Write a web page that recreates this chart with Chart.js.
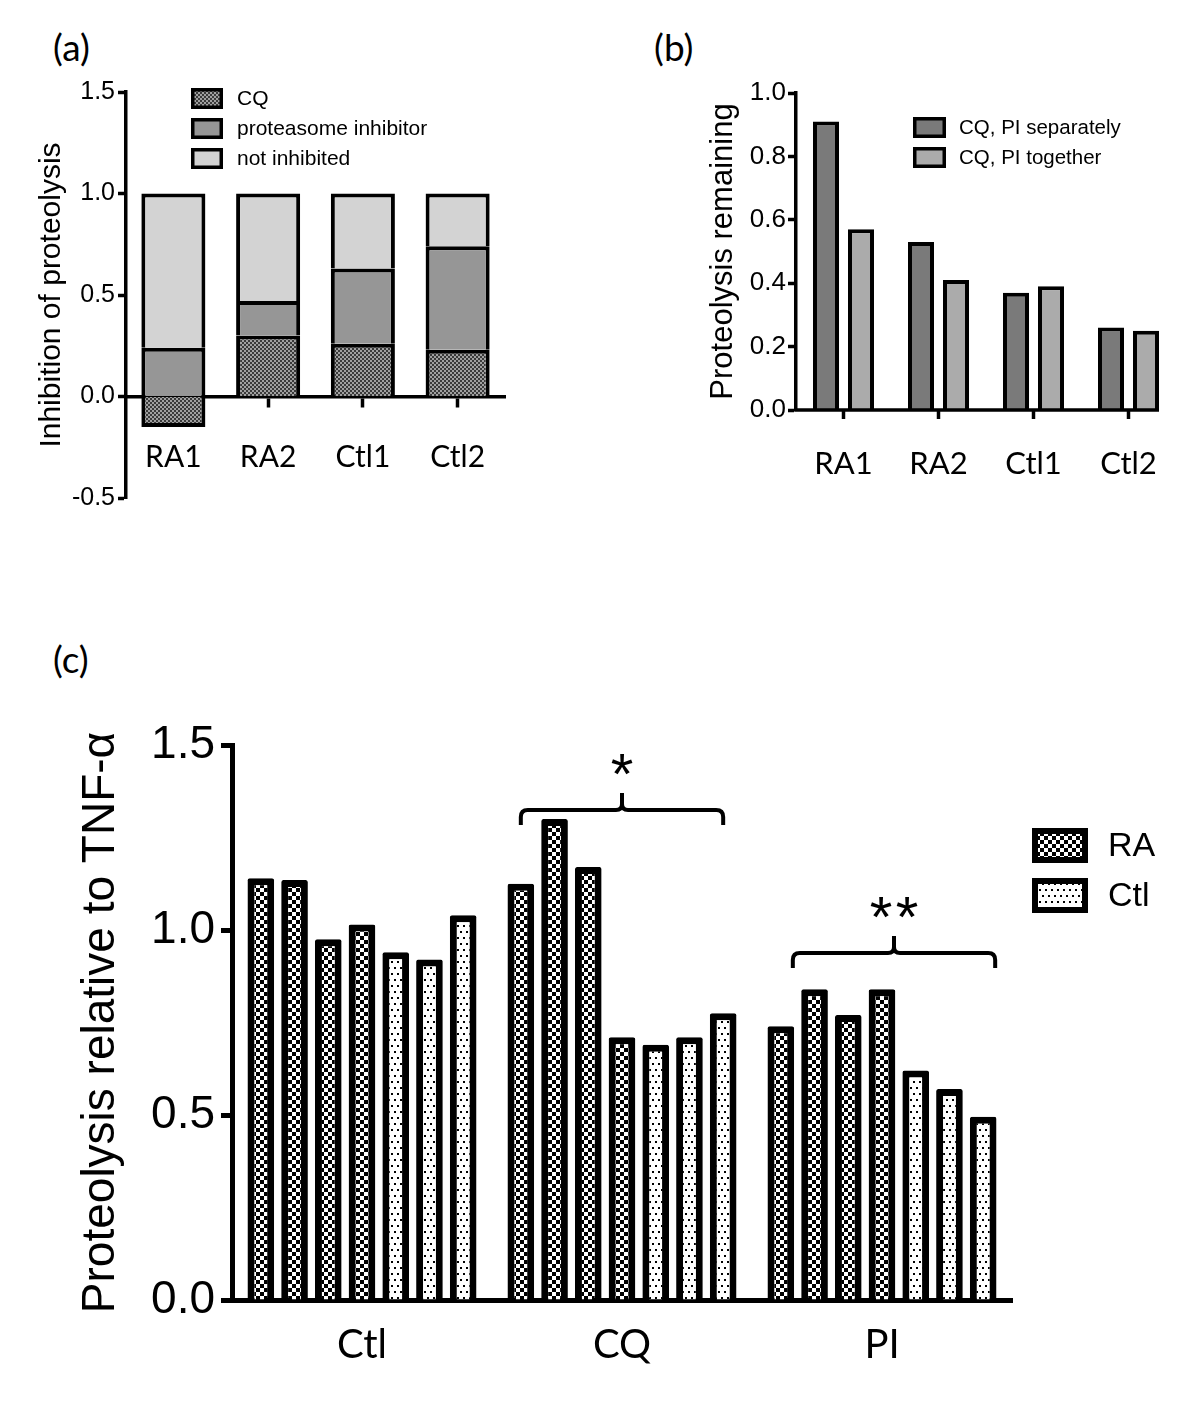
<!DOCTYPE html>
<html>
<head>
<meta charset="utf-8">
<script src="https://cdn.jsdelivr.net/npm/chart.js@4.4.1/dist/chart.umd.min.js"></script>
<style>
  html, body { margin: 0; padding: 0; background: #fff; }
  body { width: 1200px; height: 1406px; position: relative; overflow: hidden; font-family: 'Liberation Sans', Arial, sans-serif; }
  .wrap { position: absolute; }
  .plabel { position: absolute; font-family: Lato, 'Open Sans', sans-serif; font-size: 37px; line-height: 37px; color: #000; }
</style>
</head>
<body>
<div class="plabel" style="left:53px;top:28px">(a)</div>
<div class="plabel" style="left:654px;top:28px">(b)</div>
<div class="plabel" style="left:53px;top:640px">(c)</div>
<div class="wrap" style="left:0;top:0;"><canvas id="ca" width="560" height="540"></canvas></div>
<div class="wrap" style="left:600px;top:0;"><canvas id="cb" width="600" height="540"></canvas></div>
<div class="wrap" style="left:0;top:600px;"><canvas id="cc" width="1200" height="806"></canvas></div>
<script>
// ---------- DATA ----------
// Panel (a): inhibition of proteolysis (stacked)
const subjects = ['RA1', 'RA2', 'Ctl1', 'Ctl2'];
const cqInhibition = [-0.15, 0.30, 0.26, 0.23];
const piInhibition = [0.24, 0.17, 0.37, 0.51];
const notInhibited = [0.76, 0.53, 0.37, 0.26];

// Panel (b): proteolysis remaining
const remainingSeparately = [0.91, 0.53, 0.37, 0.26];
const remainingTogether = [0.57, 0.41, 0.39, 0.25];

// Panel (c): proteolysis relative to TNF-alpha
const treatments = ['Ctl', 'CQ', 'PI'];
const raCtl = [1.14, 1.135, 0.975, 1.015];
const ctlCtl = [0.94, 0.92, 1.04];
const raCQ = [1.125, 1.30, 1.17, 0.71];
const ctlCQ = [0.69, 0.71, 0.775];
const raPI = [0.74, 0.84, 0.77, 0.84];
const ctlPI = [0.62, 0.57, 0.495];
const significance = [
  { group: 1, label: '*', level: 1.324, dx: 0 },
  { group: 2, label: '**', level: 0.938, dx: 12 }
];

// ---------- HELPERS ----------
Chart.defaults.font.family = "'Liberation Sans', Arial, sans-serif";
Chart.defaults.color = '#000';

function makePattern(size, draw) {
  const c = document.createElement('canvas');
  c.width = size; c.height = size;
  const x = c.getContext('2d');
  draw(x);
  return x.createPattern(c, 'repeat');
}
const patCQa = makePattern(4, x => {
  x.fillStyle = '#a0a0a0'; x.fillRect(0, 0, 4, 4);
  x.fillStyle = '#3a3a3a'; x.fillRect(0, 0, 2, 2); x.fillRect(2, 2, 2, 2);
});
const patRA = makePattern(8, x => {
  x.fillStyle = '#fff'; x.fillRect(0, 0, 8, 8);
  x.fillStyle = '#000'; x.fillRect(0, 0, 4, 4); x.fillRect(4, 4, 4, 4);
});
const patCtl = makePattern(12, x => {
  x.fillStyle = '#fff'; x.fillRect(0, 0, 12, 12);
  x.fillStyle = '#000';
  x.fillRect(1, 1, 2, 2); x.fillRect(7, 1, 2, 2); x.fillRect(4, 7, 2, 2); x.fillRect(10, 7, 2, 2);
});

const boxLegend = {
  id: 'boxLegend',
  afterDraw(chart, args, o) {
    const ctx = chart.ctx;
    const seen = new Set();
    const items = [];
    chart.data.datasets.forEach(d => { if (!seen.has(d.label)) { seen.add(d.label); items.push(d); } });
    ctx.save();
    items.forEach((d, i) => {
      const x = o.x, y = o.y + i * o.gap;
      ctx.fillStyle = '#000';
      ctx.fillRect(x, y, o.w, o.h);
      ctx.fillStyle = d.backgroundColor;
      ctx.fillRect(x + o.bw, y + o.bw, o.w - 2 * o.bw, o.h - 2 * o.bw);
      ctx.fillStyle = '#000';
      ctx.font = o.font;
      ctx.textAlign = 'left';
      ctx.textBaseline = 'middle';
      ctx.fillText(d.label, o.tx, y + o.h / 2 + 1);
    });
    ctx.restore();
  }
};

function axisY(opts) {
  return {
    min: opts.min, max: opts.max,
    afterFit: s => { s.width = opts.width; },
    ticks: { stepSize: opts.step, color: '#000', font: { size: opts.tickSize }, padding: opts.pad, callback: v => Number(v).toFixed(1) },
    grid: { drawOnChartArea: false, drawTicks: true, tickLength: opts.tickLen, tickWidth: opts.lw, tickColor: '#000' },
    border: { display: true, color: '#000', width: opts.lw },
    title: { display: true, text: opts.title, color: '#000', font: { size: opts.titleSize }, padding: { top: opts.titlePad, bottom: 0 } }
  };
}

// ---------- PANEL (a) ----------
new Chart(document.getElementById('ca'), {
  type: 'bar',
  data: {
    labels: subjects,
    datasets: [
      { label: 'CQ', data: cqInhibition, backgroundColor: patCQa },
      { label: 'proteasome inhibitor', data: piInhibition, backgroundColor: '#969696' },
      { label: 'not inhibited', data: notInhibited, backgroundColor: '#d3d3d3' }
    ].map(d => Object.assign(d, { borderColor: '#000', borderWidth: 4, categoryPercentage: 0.8, barPercentage: 0.845 }))
  },
  options: {
    responsive: false, animation: false, events: [],
    layout: { padding: { top: 92, right: 55, bottom: 42, left: 0 } },
    plugins: {
      legend: { display: false }, tooltip: { enabled: false },
      boxLegend: { x: 191, y: 88, gap: 30, w: 32, h: 21, bw: 3.5, tx: 237, font: "21px 'Liberation Sans', Arial, sans-serif" }
    },
    scales: {
      x: {
        type: 'category', stacked: true, position: { y: 0 }, z: 1, offset: true,
        grid: { offset: false, drawOnChartArea: false, drawTicks: true, tickLength: 9, tickWidth: 3.5, tickColor: '#000' },
        border: { display: true, color: '#000', width: 3.5 },
        ticks: { color: '#000', font: { family: 'Lato', size: 30 }, padding: 34, maxRotation: 0, autoSkip: false }
      },
      y: Object.assign(axisY({ min: -0.5, max: 1.5, step: 0.5, width: 126, tickSize: 25, pad: 3, tickLen: 8, lw: 3.5, title: 'Inhibition of proteolysis', titleSize: 30, titlePad: 34 }), { stacked: true })
    }
  },
  plugins: [boxLegend]
});

// ---------- PANEL (b) ----------
const bAxisLine = {
  id: 'bAxisLine',
  afterDraw(chart) {
    const ctx = chart.ctx, a = chart.chartArea;
    const meta = chart.getDatasetMeta(chart.data.datasets.length - 1);
    const last = meta.data[meta.data.length - 1];
    ctx.save();
    ctx.strokeStyle = '#000'; ctx.lineWidth = 3.5;
    ctx.beginPath();
    ctx.moveTo(a.left - 1.75, a.bottom);
    ctx.lineTo(last.x + last.width / 2, a.bottom);
    ctx.stroke();
    ctx.restore();
  }
};
new Chart(document.getElementById('cb'), {
  type: 'bar',
  data: {
    labels: subjects,
    datasets: [
      { label: 'CQ, PI separately', data: remainingSeparately, backgroundColor: '#7a7a7a' },
      { label: 'CQ, PI together', data: remainingTogether, backgroundColor: '#ababab' }
    ].map(d => Object.assign(d, { borderColor: '#000', borderWidth: 4, categoryPercentage: 0.737, barPercentage: 0.743 }))
  },
  options: {
    responsive: false, animation: false, events: [],
    layout: { padding: { top: 93, right: 24, bottom: 0, left: 0 } },
    plugins: {
      legend: { display: false }, tooltip: { enabled: false },
      boxLegend: { x: 313, y: 117, gap: 30, w: 33, h: 21, bw: 3.5, tx: 359, font: "20.5px 'Liberation Sans', Arial, sans-serif" }
    },
    scales: {
      x: {
        type: 'category', position: 'bottom', offset: true,
        afterFit: s => { s.height = 130; },
        grid: { offset: false, drawOnChartArea: false, drawTicks: true, tickLength: 9, tickWidth: 3.5, tickColor: '#000' },
        border: { display: false },
        ticks: { color: '#000', font: { family: 'Lato', size: 31 }, padding: 26, maxRotation: 0, autoSkip: false }
      },
      y: axisY({ min: 0, max: 1.0, step: 0.2, width: 196, tickSize: 26, pad: 2, tickLen: 8, lw: 3.5, title: 'Proteolysis remaining', titleSize: 31, titlePad: 105 })
    }
  },
  plugins: [boxLegend, bAxisLine]
});

// ---------- PANEL (c) ----------
const groupsRA = [raCtl, raCQ, raPI];
const groupsCtl = [ctlCtl, ctlCQ, ctlPI];
const cDatasets = [];
for (let k = 0; k < raCtl.length; k++) {
  cDatasets.push({ label: 'RA', data: groupsRA.map(g => g[k]), backgroundColor: patRA });
}
for (let k = 0; k < ctlCtl.length; k++) {
  cDatasets.push({ label: 'Ctl', data: groupsCtl.map(g => g[k]), backgroundColor: patCtl });
}
cDatasets.forEach(d => Object.assign(d, { borderColor: '#000', borderWidth: 7, borderRadius: 2, categoryPercentage: 0.908, barPercentage: 0.79 }));

const brackets = {
  id: 'brackets',
  afterDatasetsDraw(chart, args, o) {
    const ctx = chart.ctx, ys = chart.scales.y;
    const n = chart.data.datasets.length;
    o.items.forEach(it => {
      const first = chart.getDatasetMeta(0).data[it.group];
      const last = chart.getDatasetMeta(n - 1).data[it.group];
      const L = first.x + it.dx, R = last.x + it.dx, C = (L + R) / 2;
      const y = ys.getPixelForValue(it.level);
      ctx.save();
      ctx.strokeStyle = '#000'; ctx.lineWidth = 4; ctx.lineJoin = 'round';
      ctx.beginPath();
      ctx.moveTo(L, y + 15); ctx.lineTo(L, y + 7);
      ctx.quadraticCurveTo(L, y, L + 7, y);
      ctx.lineTo(C - 6, y);
      ctx.quadraticCurveTo(C, y, C, y - 6);
      ctx.lineTo(C, y - 17);
      ctx.moveTo(C, y - 6);
      ctx.quadraticCurveTo(C, y, C + 6, y);
      ctx.lineTo(R - 7, y);
      ctx.quadraticCurveTo(R, y, R, y + 7);
      ctx.lineTo(R, y + 15);
      ctx.stroke();
      ctx.fillStyle = '#000';
      ctx.font = "58px 'Liberation Sans', Arial, sans-serif";
      ctx.textAlign = 'center'; ctx.textBaseline = 'alphabetic';
      const chars = it.label.split('');
      const cy = y - 49;
      chars.forEach((ch, i) => {
        const cx = C + (i - (chars.length - 1) / 2) * 26;
        ctx.fillText(ch, cx, cy + 33);
      });
      ctx.restore();
    });
  }
};

new Chart(document.getElementById('cc'), {
  type: 'bar',
  data: { labels: treatments, datasets: cDatasets },
  options: {
    responsive: false, animation: false, events: [],
    layout: { padding: { top: 145, right: 188, bottom: 0, left: 0 } },
    plugins: {
      legend: { display: false }, tooltip: { enabled: false },
      boxLegend: { x: 1032, y: 228, gap: 50, w: 56, h: 35, bw: 6, tx: 1108, font: "34px 'Liberation Sans', Arial, sans-serif" },
      brackets: { items: significance }
    },
    scales: {
      x: {
        type: 'category', position: 'bottom', offset: true, z: 1,
        afterFit: s => { s.height = 106; },
        grid: { offset: false, drawOnChartArea: false, drawTicks: false },
        border: { display: true, color: '#000', width: 5 },
        ticks: { color: '#000', font: { family: 'Lato', size: 40 }, padding: 21, maxRotation: 0, autoSkip: false }
      },
      y: axisY({ min: 0, max: 1.5, step: 0.5, width: 232, tickSize: 46, pad: 6, tickLen: 11, lw: 5, title: 'Proteolysis relative to TNF-α', titleSize: 46, titlePad: 74 })
    }
  },
  plugins: [boxLegend, brackets]
});
</script>
</body>
</html>
